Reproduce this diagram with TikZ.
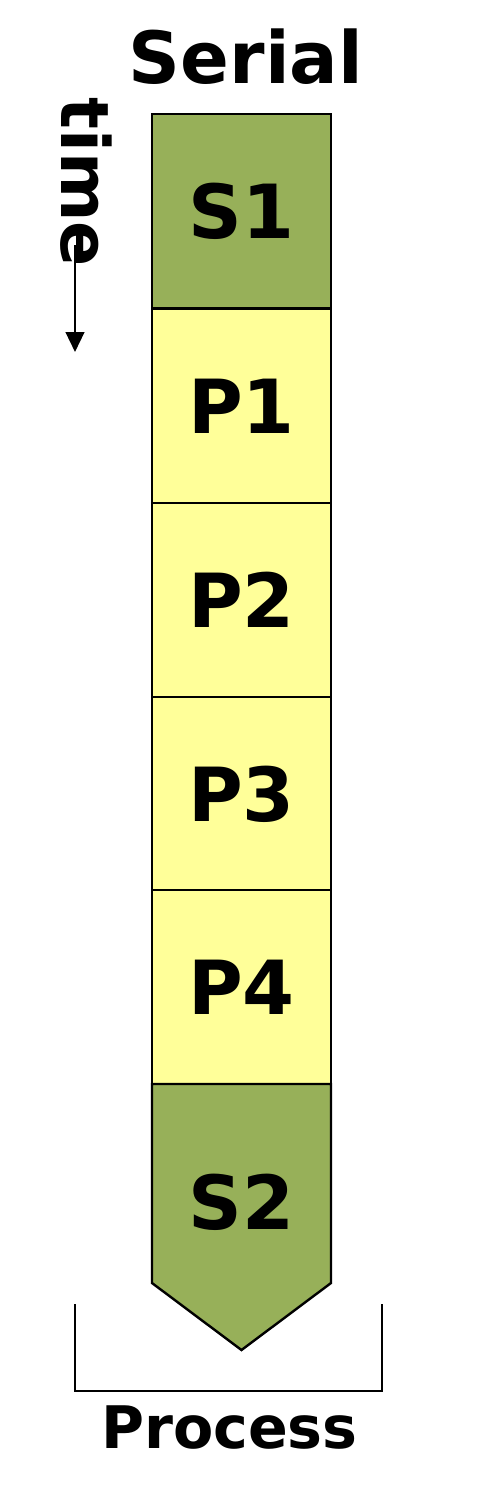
\documentclass[tikz,border=0pt]{standalone}
\usepackage{fontspec}
\setmainfont{DejaVu Sans}
\usetikzlibrary{arrows.meta}
\definecolor{sgreen}{RGB}{151,176,89}
\definecolor{pyellow}{RGB}{255,255,153}
\begin{document}
\begin{tikzpicture}[x=0.75pt,y=-0.75pt,
  blk/.style={draw=black,line width=1.8pt,minimum width=134.25pt,minimum height=145.5pt,inner sep=0pt,outer sep=0pt,font=\fontsize{56}{60}\selectfont\bfseries},
  sblk/.style={blk,fill=sgreen},
  pblk/.style={blk,fill=pyellow},
  lbl/.style={inner sep=0pt,font=\bfseries}]
\useasboundingbox (0,0) rectangle (502,1496);
\node[lbl,font=\fontsize{54}{60}\selectfont\bfseries] (serial) at (246,57) {Serial};
\node[sblk] (s1) at (241.5,211) {S1};
\node[pblk] (p1) at (241.5,406) {P1};
\node[pblk] (p2) at (241.5,600) {P2};
\node[pblk] (p3) at (241.5,794) {P3};
\node[pblk] (p4) at (241.5,987) {P4};
\draw[fill=sgreen,line width=1.8pt,line join=miter] (p4.south west) -- (p4.south east) -- (331,1283) -- (241.5,1350) -- (152,1283) -- cycle;
\node[lbl,font=\fontsize{56}{60}\selectfont\bfseries] (s2) at (241.5,1202) {S2};
\node[lbl,rotate=-90,font=\fontsize{50}{60}\selectfont\bfseries] (time) at (86,182) {time};
\coordinate (ta) at (75,245);
\coordinate (tb) at (75,352);
\draw[line width=1.8pt,-{Triangle[length=15pt,width=14pt]}] (ta) -- (tb);
\coordinate (bl) at (75,1304);
\coordinate (bll) at (75,1391);
\coordinate (brr) at (382,1391);
\coordinate (br) at (382,1304);
\draw[line width=1.8pt] (bl) -- (bll) -- (brr) -- (br);
\node[lbl,font=\fontsize{44}{50}\selectfont\bfseries] (proc) at (229.5,1428) {Process};
\end{tikzpicture}
\end{document}
